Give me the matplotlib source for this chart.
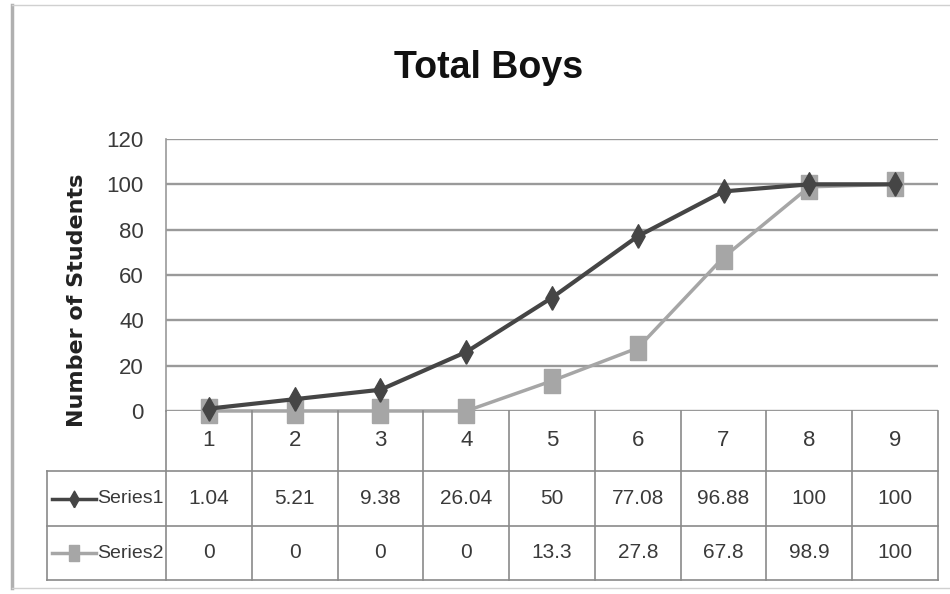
import matplotlib.pyplot as plt
import numpy as np

categories = [1, 2, 3, 4, 5, 6, 7, 8, 9]
series1 = [1.04, 5.21, 9.38, 26.04, 50, 77.08, 96.88, 100, 100]
series2 = [0, 0, 0, 0, 13.3, 27.8, 67.8, 98.9, 100]
series1_txt = ["1.04", "5.21", "9.38", "26.04", "50", "77.08", "96.88", "100", "100"]
series2_txt = ["0", "0", "0", "0", "13.3", "27.8", "67.8", "98.9", "100"]
yticks = [0, 20, 40, 60, 80, 100, 120]

narrow = ["Liberation Sans Narrow", "Liberation Sans", "DejaVu Sans"]
c1 = "#454545"
c2 = "#a6a6a6"
grid_c = "#9a9a9a"

# tall markers, the original picture is stretched vertically
tall_diamond = [(0, -1.6), (0.9, 0), (0, 1.6), (-0.9, 0), (0, -1.6)]
tall_square = [(-0.65, -1), (0.65, -1), (0.65, 1), (-0.65, 1), (-0.65, -1)]

W, H = 950, 594
fig = plt.figure(figsize=(9.5, 5.94), dpi=100)

def fx(px):
    return px / W

def fy(py):
    return 1 - py / H

# outer frame of the chart
fig.add_artist(plt.Line2D([fx(12), fx(12)], [fy(5), fy(588)], color="#b0b0b0", lw=2.5))
fig.add_artist(plt.Line2D([fx(12), fx(950)], [fy(5), fy(5)], color="#d0d0d0", lw=1))
fig.add_artist(plt.Line2D([fx(12), fx(950)], [fy(588), fy(588)], color="#d0d0d0", lw=1))

# plot area
left, right, top, bot = 166, 938, 139, 411
ax = fig.add_axes([fx(left), fy(bot), fx(right - left), (bot - top) / H])
ax.set_xlim(0.5, 9.5)
ax.set_ylim(0, 120)
for y in yticks:
    ax.axhline(y, color=grid_c, lw=1.7, zorder=1)
ax.plot(categories, series2, color=c2, lw=2.5, marker=tall_square, ms=17, zorder=3, clip_on=False)
ax.plot(categories, series1, color=c1, lw=3, marker=tall_diamond, ms=17, zorder=4, clip_on=False)
for s in ["top", "right", "bottom"]:
    ax.spines[s].set_visible(False)
ax.spines["left"].set_color(grid_c)
ax.spines["left"].set_linewidth(1.2)
ax.set_xticks([])
ax.set_yticks(yticks)
ax.set_yticklabels([str(v) for v in yticks], family=narrow, fontsize=16, color="#3a3a3a")
ax.tick_params(axis="y", length=0, pad=16)
ax.set_facecolor("none")

fig.text(fx(489), fy(68), "Total Boys", ha="center", va="center",
         fontsize=27, fontweight="bold", family=narrow, color="#111111")
fig.text(fx(77), fy(300), "Number of Students", ha="center", va="center", rotation=90,
         fontsize=16, fontweight="bold", family=["DejaVu Sans"], color="#222222")

# data table below the plot
tl = 47
rows = [411, 471, 526, 580]
colw = (right - left) / len(categories)
edges = [left + i * colw for i in range(len(categories) + 1)]
tc = "#8a8a8a"
for x in edges:
    fig.add_artist(plt.Line2D([fx(x), fx(x)], [fy(rows[0]), fy(rows[3])], color=tc, lw=1.2))
fig.add_artist(plt.Line2D([fx(tl), fx(tl)], [fy(rows[1]), fy(rows[3])], color=tc, lw=1.2))
for r in rows[1:]:
    fig.add_artist(plt.Line2D([fx(tl), fx(right)], [fy(r), fy(r)], color=tc, lw=1.2))

for i, c in enumerate(categories):
    cx = (edges[i] + edges[i + 1]) / 2
    fig.text(fx(cx), fy((rows[0] + rows[1]) / 2), str(c), ha="center", va="center",
             family=narrow, fontsize=16, color="#3a3a3a")
    fig.text(fx(cx), fy((rows[1] + rows[2]) / 2), series1_txt[i], ha="center", va="center",
             family=narrow, fontsize=15, color="#3a3a3a")
    fig.text(fx(cx), fy((rows[2] + rows[3]) / 2), series2_txt[i], ha="center", va="center",
             family=narrow, fontsize=15, color="#3a3a3a")

# legend keys inside the table
for (r0, r1), name, col, mk in [((rows[1], rows[2]), "Series1", c1, tall_diamond),
                                ((rows[2], rows[3]), "Series2", c2, tall_square)]:
    yc = fy((r0 + r1) / 2)
    fig.add_artist(plt.Line2D([fx(52), fx(96)], [yc, yc], color=col, lw=2.5))
    fig.add_artist(plt.Line2D([fx(74)], [yc], color=col, marker=mk, ms=12, lw=0))
    fig.text(fx(97), yc, name, ha="left", va="center", family=narrow, fontsize=14, color="#3a3a3a")

fig.savefig("out.png", dpi=100)
